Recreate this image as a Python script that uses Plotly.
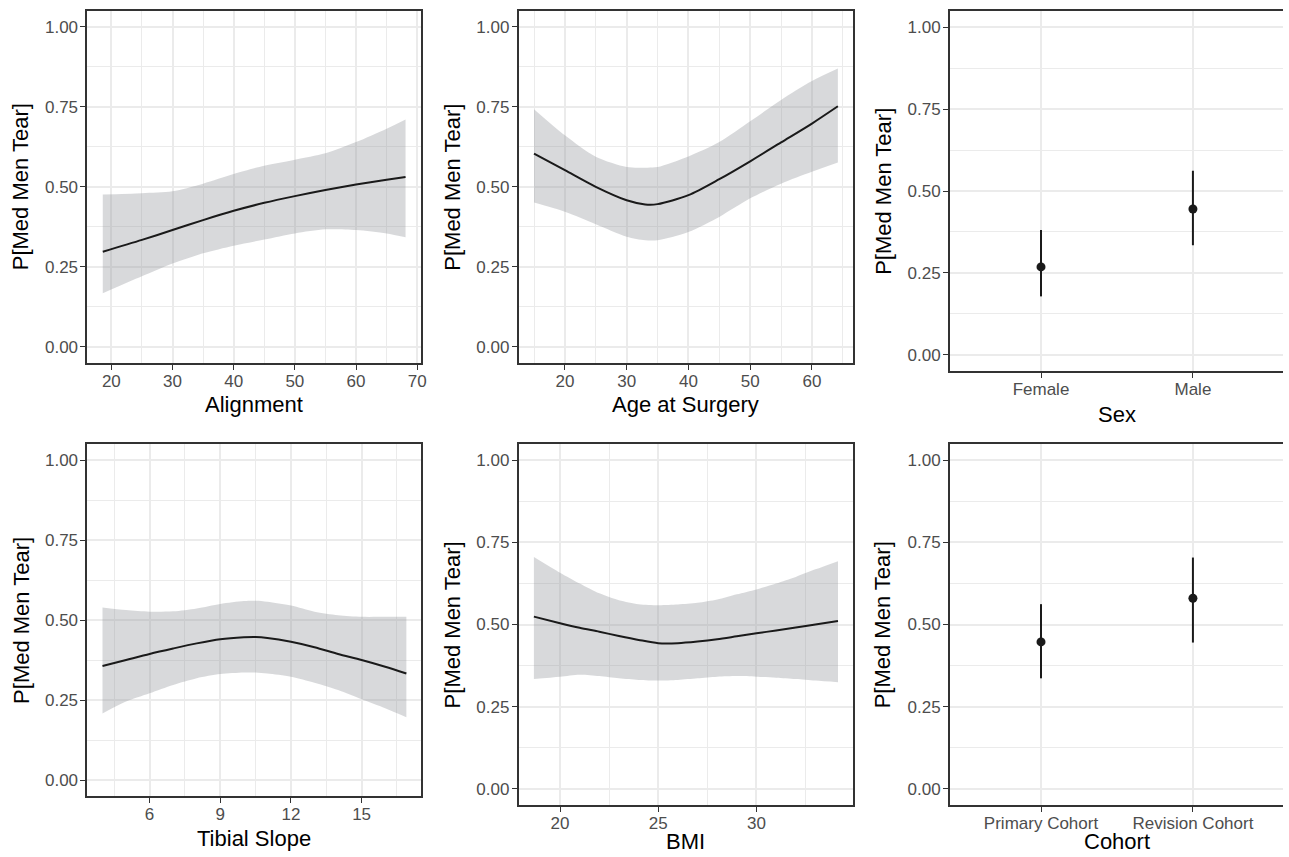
import plotly.graph_objects as go

W, H = 1289, 857

# ---------------- data ----------------
y_title = "P[Med Men Tear]"

align_x = [18.6, 25, 30, 35, 40, 45, 50, 55, 60, 65, 68.1]
align_fit = [0.297, 0.334, 0.365, 0.396, 0.425, 0.450, 0.471, 0.490, 0.507, 0.522, 0.531]
align_hi = [0.476, 0.480, 0.486, 0.510, 0.540, 0.566, 0.585, 0.605, 0.640, 0.682, 0.711]
align_lo = [0.167, 0.220, 0.260, 0.292, 0.316, 0.335, 0.354, 0.367, 0.365, 0.354, 0.342]

age_x = [15, 20, 25, 30, 33, 35, 40, 45, 50, 55, 60, 64.2]
age_fit = [0.604, 0.552, 0.500, 0.458, 0.445, 0.446, 0.474, 0.524, 0.580, 0.639, 0.698, 0.752]
age_hi = [0.743, 0.661, 0.594, 0.562, 0.560, 0.562, 0.595, 0.640, 0.705, 0.772, 0.831, 0.870]
age_lo = [0.451, 0.422, 0.383, 0.344, 0.333, 0.333, 0.359, 0.406, 0.464, 0.510, 0.547, 0.576]

tib_x = [4.0, 5, 6, 7, 8, 9, 10, 10.5, 11, 12, 13, 14, 15, 16, 16.9]
tib_fit = [0.356, 0.375, 0.394, 0.411, 0.427, 0.440, 0.446, 0.447, 0.444, 0.432, 0.415, 0.394, 0.375, 0.354, 0.333]
tib_hi = [0.539, 0.531, 0.526, 0.527, 0.536, 0.550, 0.559, 0.560, 0.557, 0.545, 0.526, 0.515, 0.510, 0.510, 0.510]
tib_lo = [0.208, 0.245, 0.271, 0.297, 0.318, 0.331, 0.336, 0.336, 0.333, 0.323, 0.304, 0.281, 0.252, 0.224, 0.196]

bmi_x = [18.67, 20, 21, 22, 23, 24, 25, 26, 27, 28, 29, 30, 31, 32, 33, 34.15]
bmi_fit = [0.524, 0.504, 0.490, 0.478, 0.465, 0.453, 0.443, 0.443, 0.448, 0.455, 0.464, 0.473, 0.482, 0.491, 0.500, 0.511]
bmi_hi = [0.706, 0.658, 0.625, 0.595, 0.574, 0.562, 0.559, 0.561, 0.566, 0.576, 0.592, 0.607, 0.625, 0.645, 0.668, 0.693]
bmi_lo = [0.334, 0.341, 0.347, 0.343, 0.336, 0.331, 0.329, 0.331, 0.336, 0.341, 0.343, 0.341, 0.338, 0.334, 0.329, 0.324]

sex_cat = ["Female", "Male"]
sex_est = [0.268, 0.445]
sex_lo = [0.178, 0.334]
sex_hi = [0.381, 0.562]

coh_cat = ["Primary Cohort", "Revision Cohort"]
coh_est = [0.447, 0.580]
coh_lo = [0.336, 0.445]
coh_hi = [0.562, 0.704]

y_ticks = [0, 0.25, 0.5, 0.75, 1.0]

# ---------------- styles ----------------
FONT = "Liberation Sans, Arial, sans-serif"
BORDER = "#333333"
GRID = "#EBEBEB"
TICKC = "#4D4D4D"
LINEC = "#1a1a1a"
RIBBON = "rgba(150,152,157,0.37)"

# panel pixel boxes: (left, right, top, bottom)
panels = {
    1: (87.7, 423.0, 11, 362.7),
    2: (521.0, 857.3, 11, 362.7),
    3: (954.3, 1289.0, 11, 371.0),
    4: (87.7, 423.3, 444, 796.0),
    5: (521.0, 857.3, 444, 805.0),
    6: (954.3, 1289.0, 444, 805.0),
}

fig = go.Figure()


def dom(p):
    l, r, t, b = panels[p]
    return [l / W, min(r / W, 1.0)], [1 - b / H, 1 - t / H]


def add_curve(p, xs, fit, lo, hi):
    xa = "x" if p == 1 else f"x{p}"
    ya = "y" if p == 1 else f"y{p}"
    fig.add_trace(go.Scatter(x=xs, y=lo, mode="lines", line=dict(width=0, shape="spline", smoothing=0.8),
                             xaxis=xa, yaxis=ya, showlegend=False, hoverinfo="skip"))
    fig.add_trace(go.Scatter(x=xs, y=hi, mode="lines", line=dict(width=0, shape="spline", smoothing=0.8),
                             fill="tonexty", fillcolor=RIBBON,
                             xaxis=xa, yaxis=ya, showlegend=False, hoverinfo="skip"))
    fig.add_trace(go.Scatter(x=xs, y=fit, mode="lines", line=dict(color=LINEC, width=2, shape="spline", smoothing=0.8),
                             xaxis=xa, yaxis=ya, showlegend=False))


def add_points(p, cats, est, lo, hi):
    xa = f"x{p}"
    ya = f"y{p}"
    fig.add_trace(go.Scatter(
        x=cats, y=est, mode="markers",
        marker=dict(color=LINEC, size=9),
        error_y=dict(type="data", symmetric=False,
                     array=[h - e for h, e in zip(hi, est)],
                     arrayminus=[e - l for e, l in zip(est, lo)],
                     color=LINEC, thickness=2, width=0),
        xaxis=xa, yaxis=ya, showlegend=False))


add_curve(1, align_x, align_fit, align_lo, align_hi)
add_curve(2, age_x, age_fit, age_lo, age_hi)
add_points(3, sex_cat, sex_est, sex_lo, sex_hi)
add_curve(4, tib_x, tib_fit, tib_lo, tib_hi)
add_curve(5, bmi_x, bmi_fit, bmi_lo, bmi_hi)
add_points(6, coh_cat, coh_est, coh_lo, coh_hi)

x_specs = {
    1: dict(range=[16.07, 70.63], tickvals=[20, 30, 40, 50, 60, 70], minor_dtick=5, minor_tick0=0),
    2: dict(range=[12.5, 66.7], tickvals=[20, 30, 40, 50, 60], minor_dtick=5, minor_tick0=0),
    3: dict(range=[-0.6, 1.593], cat=True),
    4: dict(range=[3.355, 17.535], tickvals=[6, 9, 12, 15], minor_dtick=1.5, minor_tick0=0),
    5: dict(range=[17.89, 34.93], tickvals=[20, 25, 30], minor_dtick=2.5, minor_tick0=0),
    6: dict(range=[-0.6, 1.593], cat=True),
}

layout = dict(
    width=W, height=H,
    margin=dict(l=0, r=0, t=0, b=0),
    paper_bgcolor="white", plot_bgcolor="white",
    font=dict(family=FONT, color=TICKC, size=17),
    showlegend=False,
)

for p in range(1, 7):
    xd, yd = dom(p)
    spec = x_specs[p]
    xk = "xaxis" if p == 1 else f"xaxis{p}"
    yk = "yaxis" if p == 1 else f"yaxis{p}"
    ya = "y" if p == 1 else f"y{p}"
    xa = "x" if p == 1 else f"x{p}"
    right_panel = p in (3, 6)
    xax = dict(domain=xd, anchor=ya, range=spec["range"], showline=True, mirror=True,
               linecolor=BORDER, linewidth=1.6, ticks="outside", ticklen=5, tickcolor=BORDER,
               tickwidth=1.3, showgrid=True, gridcolor=GRID, gridwidth=1.8, zeroline=False,
               ticklabelstandoff=-3,
               tickfont=dict(family=FONT, size=17, color=TICKC), fixedrange=True)
    if spec.get("cat"):
        xax["type"] = "category"
    else:
        xax["tickmode"] = "array"
        xax["tickvals"] = spec["tickvals"]
        xax["minor"] = dict(dtick=spec["minor_dtick"], tick0=spec["minor_tick0"], showgrid=True,
                            gridcolor=GRID, gridwidth=0.9, ticks="")
    yax = dict(domain=yd, anchor=xa, range=[-0.05, 1.05], showline=True,
               mirror=(False if right_panel else True),
               linecolor=BORDER, linewidth=1.6, ticks="outside", ticklen=5, tickcolor=BORDER,
               tickwidth=1.3, tickmode="array", tickvals=y_ticks, tickformat=".2f",
               showgrid=True, gridcolor=GRID, gridwidth=1.8, zeroline=False,
               ticklabelstandoff=-1,
               minor=dict(dtick=0.125, tick0=0, showgrid=True, gridcolor=GRID, gridwidth=0.9, ticks=""),
               tickfont=dict(family=FONT, size=17, color=TICKC), fixedrange=True)
    layout[xk] = xax
    layout[yk] = yax

fig.update_layout(**layout)

# axis titles as annotations
x_titles = [
    ("Alignment", 255.3, 405),
    ("Age at Surgery", 689.1, 405),
    ("Sex", 1122.0, 414),
    ("Tibial Slope", 255.5, 838),
    ("BMI", 689.1, 841),
    ("Cohort", 1122.0, 841),
]
for txt, px, py in x_titles:
    fig.add_annotation(text=txt, x=px / W, y=1 - py / H, xref="paper", yref="paper",
                       xanchor="center", yanchor="middle", showarrow=False,
                       font=dict(family=FONT, size=22, color="black"))

y_titles = [(20.5, 1), (455, 2), (887, 3), (21, 4), (455, 5), (887, 6)]
for px, p in y_titles:
    l, r, t, b = panels[p]
    cy = (t + b) / 2
    fig.add_annotation(text=y_title, x=px / W, y=1 - cy / H, xref="paper", yref="paper",
                       xanchor="center", yanchor="middle", showarrow=False, textangle=-90,
                       font=dict(family=FONT, size=22, color="black"))

post = ("document.body.style.margin='0';document.body.style.padding='0';"
        "document.body.style.overflow='hidden';"
        "document.documentElement.style.overflow='hidden';")
fig.write_html("out.html", post_script=post, config={"displayModeBar": False})
